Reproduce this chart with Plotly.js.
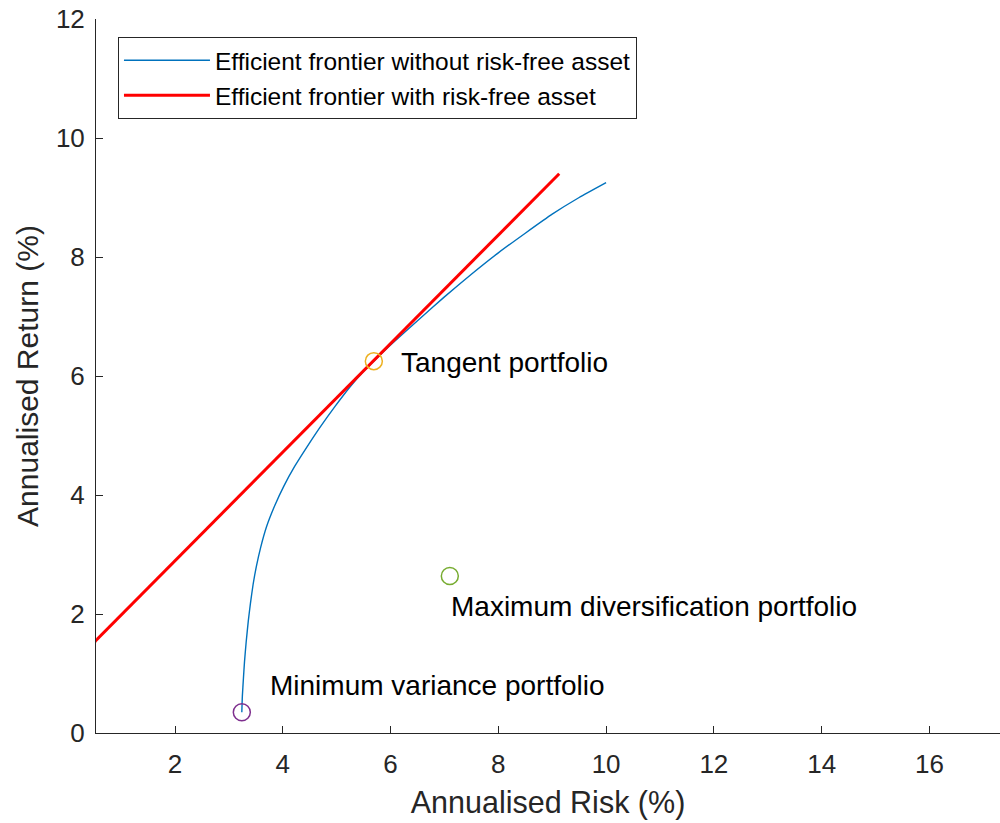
<!DOCTYPE html>
<html>
<head>
<meta charset="utf-8">
<script src="https://cdn.plot.ly/plotly-3.0.1.min.js"></script>
<style>
  html, body { margin: 0; padding: 0; background: #ffffff; }
  #chart { width: 1000px; height: 823px; }
</style>
</head>
<body>
<div id="chart"></div>
<script>
// Efficient frontier of the risky assets (risk %, return %)
const frontierRisk = [3.24, 3.25, 3.27, 3.29, 3.32, 3.36, 3.40, 3.45, 3.51, 3.59, 3.70, 3.85, 4.02, 4.22, 4.45, 4.70,
                      4.97, 5.25, 5.50, 5.69, 6.00, 6.50, 7.00, 7.50, 8.00, 8.50, 9.00, 9.50, 10.00];
const frontierReturn = [0.35, 0.62, 0.92, 1.20, 1.52, 1.88, 2.18, 2.50, 2.80, 3.12, 3.47, 3.82, 4.15, 4.48, 4.81, 5.15,
                        5.49, 5.82, 6.08, 6.25, 6.52, 6.93, 7.33, 7.71, 8.07, 8.40, 8.72, 9.00, 9.25];

// Capital market line (frontier with the risk-free asset)
const cmlRisk = [0, 9.13];
const cmlReturn = [1.07, 9.40];

// Highlighted portfolios
const portfolioNames = ['Tangent portfolio', 'Minimum variance portfolio', 'Maximum diversification portfolio'];
const portfolioRisk = [5.69, 3.24, 7.10];
const portfolioReturn = [6.25, 0.35, 2.64];
const portfolioColors = ['#EDB120', '#7E2F8E', '#77AC30'];

// Label anchor offsets (risk, return) relative to each portfolio
const labelOffsetRisk = [0.46, 0.48, -0.02];
const labelOffsetReturn = [-0.03, 0.45, -0.52];

const xTicks = [2, 4, 6, 8, 10, 12, 14, 16];
const yTicks = [0, 2, 4, 6, 8, 10, 12];

const FONT = '"Liberation Sans", Arial, Helvetica, sans-serif';
const AXIS_COLOR = '#262626';

const traces = [
  {
    x: frontierRisk, y: frontierReturn, type: 'scatter', mode: 'lines',
    name: 'Efficient frontier without risk-free asset',
    line: { color: '#0072BD', width: 1.4, shape: 'spline', smoothing: 0.5 },
    hoverinfo: 'skip'
  },
  {
    x: cmlRisk, y: cmlReturn, type: 'scatter', mode: 'lines',
    name: 'Efficient frontier with risk-free asset',
    line: { color: '#FF0000', width: 3 },
    hoverinfo: 'skip'
  }
];

portfolioNames.forEach((n, i) => {
  traces.push({
    x: [portfolioRisk[i]], y: [portfolioReturn[i]], type: 'scatter', mode: 'markers',
    name: n, showlegend: false,
    marker: { symbol: 'circle-open', size: 17, color: portfolioColors[i], line: { width: 1.5, color: portfolioColors[i] } },
    hoverinfo: 'skip'
  });
});

const annotations = portfolioNames.map((n, i) => ({
  x: portfolioRisk[i] + labelOffsetRisk[i],
  y: portfolioReturn[i] + labelOffsetReturn[i],
  xref: 'x', yref: 'y',
  text: n, showarrow: false,
  xanchor: 'left', yanchor: 'middle',
  font: { family: FONT, size: 28, color: '#000000' }
}));

const layout = {
  width: 1000, height: 823,
  margin: { l: 96, r: 0, t: 19, b: 90 },
  paper_bgcolor: '#ffffff', plot_bgcolor: '#ffffff',
  font: { family: FONT, color: AXIS_COLOR },
  showlegend: true,
  legend: {
    x: 0.0243, y: 0.975, xanchor: 'left', yanchor: 'top',
    bgcolor: '#ffffff', bordercolor: AXIS_COLOR, borderwidth: 1,
    font: { family: FONT, size: 24.5, color: '#000000' },
    itemwidth: 86, tracegroupgap: 0
  },
  xaxis: {
    range: [0.534, 17.31],
    tickvals: xTicks, ticktext: xTicks.map(String),
    ticks: 'inside', ticklen: 7, tickwidth: 1, tickcolor: AXIS_COLOR,
    showline: true, linecolor: AXIS_COLOR, linewidth: 1,
    showgrid: false, zeroline: false,
    tickfont: { family: FONT, size: 26, color: AXIS_COLOR },
    ticklabelstandoff: 8,
    title: { text: 'Annualised Risk (%)', font: { family: FONT, size: 30.5, color: AXIS_COLOR }, standoff: 13 }
  },
  yaxis: {
    range: [0, 12],
    tickvals: yTicks, ticktext: yTicks.map(String),
    ticks: 'inside', ticklen: 7, tickwidth: 1, tickcolor: AXIS_COLOR,
    showline: true, linecolor: AXIS_COLOR, linewidth: 1,
    showgrid: false, zeroline: false,
    tickfont: { family: FONT, size: 26, color: AXIS_COLOR },
    ticklabelstandoff: 5,
    title: { text: 'Annualised Return (%)', font: { family: FONT, size: 30, color: AXIS_COLOR }, standoff: 8 }
  },
  annotations: annotations
};

Plotly.newPlot('chart', traces, layout, { staticPlot: true, displayModeBar: false });
</script>
</body>
</html>
